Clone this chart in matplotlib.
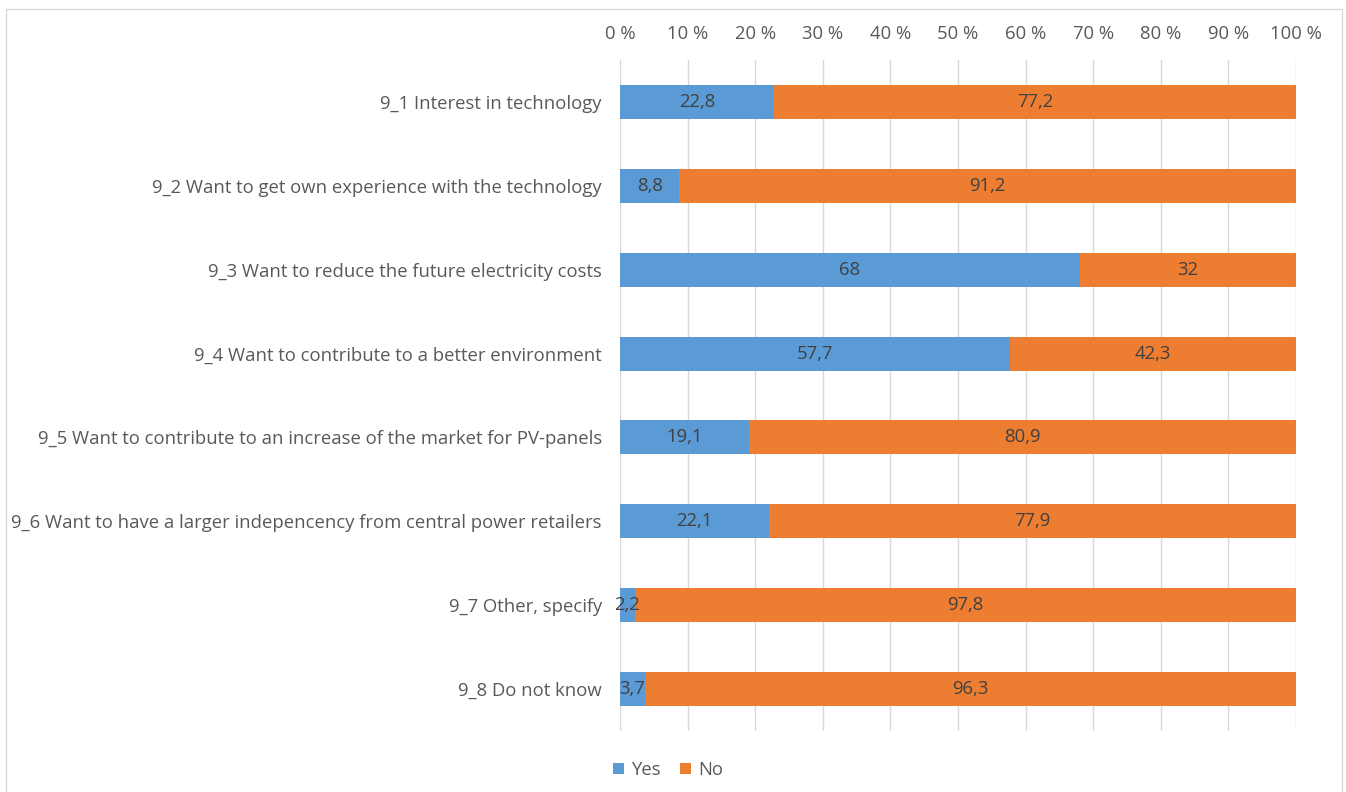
import matplotlib
matplotlib.use("Agg")
import matplotlib.pyplot as plt
from matplotlib.patches import Rectangle

categories = [
    "9_1 Interest in technology",
    "9_2 Want to get own experience with the technology",
    "9_3 Want to reduce the future electricity costs",
    "9_4 Want to contribute to a better environment",
    "9_5 Want to contribute to an increase of the market for PV-panels",
    "9_6 Want to have a larger indepencency from central power retailers",
    "9_7 Other, specify",
    "9_8 Do not know",
]
yes_values = [22.8, 8.8, 68, 57.7, 19.1, 22.1, 2.2, 3.7]
no_values = [77.2, 91.2, 32, 42.3, 80.9, 77.9, 97.8, 96.3]
tick_values = list(range(0, 101, 10))
tick_labels = [f"{v} %" for v in tick_values]

BLUE = "#5B9BD5"
ORANGE = "#ED7D31"
TEXT = "#595959"
LABEL = "#404040"
GRID = "#D9D9D9"
FONT = ["Open Sans", "DejaVu Sans"]
FS = 13.3

plt.rcParams["font.family"] = FONT

W, H = 1346, 792
fig = plt.figure(figsize=(W / 100, H / 100), dpi=100)
ax = fig.add_axes([620 / W, 1 - 731 / H, (1296 - 620) / W, (731 - 60) / H])

y = list(range(len(categories)))
bar_h = 0.405
ax.barh(y, yes_values, height=bar_h, color=BLUE, label="Yes", zorder=3)
ax.barh(y, no_values, left=yes_values, height=bar_h, color=ORANGE, label="No", zorder=3)

def fmt(v):
    return f"{v:g}".replace(".", ",")

for i, (a, b) in enumerate(zip(yes_values, no_values)):
    ax.text(a / 2, i, fmt(a), ha="center", va="center", fontsize=FS, color=LABEL, zorder=4)
    ax.text(a + b / 2, i, fmt(b), ha="center", va="center", fontsize=FS, color=LABEL, zorder=4)

ax.set_xlim(0, 100)
ax.set_ylim(len(categories) - 0.5, -0.5)
ax.set_yticks(y)
ax.set_yticklabels(categories, fontsize=FS, color=TEXT)
ax.set_xticks(tick_values)
ax.set_xticklabels(tick_labels, fontsize=FS, color=TEXT)
ax.xaxis.tick_top()
ax.tick_params(axis="x", length=0, pad=12)
ax.tick_params(axis="y", length=0, pad=13)
ax.grid(axis="x", color=GRID, linewidth=1, zorder=0)
for s in ax.spines.values():
    s.set_visible(False)

handles, labels = ax.get_legend_handles_labels()
fig.legend(handles, labels, loc="center", bbox_to_anchor=(668 / W, 1 - 770 / H),
           ncol=2, frameon=False, fontsize=FS, labelcolor=TEXT,
           handlelength=0.6, handleheight=0.6, handletextpad=0.4, columnspacing=1.0)

fig.patches.append(Rectangle((6 / W, -0.05), (1342 - 6) / W, 1.05 - 9 / H,
                             transform=fig.transFigure, fill=False,
                             edgecolor=GRID, linewidth=1))

fig.savefig("out.png", dpi=100, facecolor="white")
